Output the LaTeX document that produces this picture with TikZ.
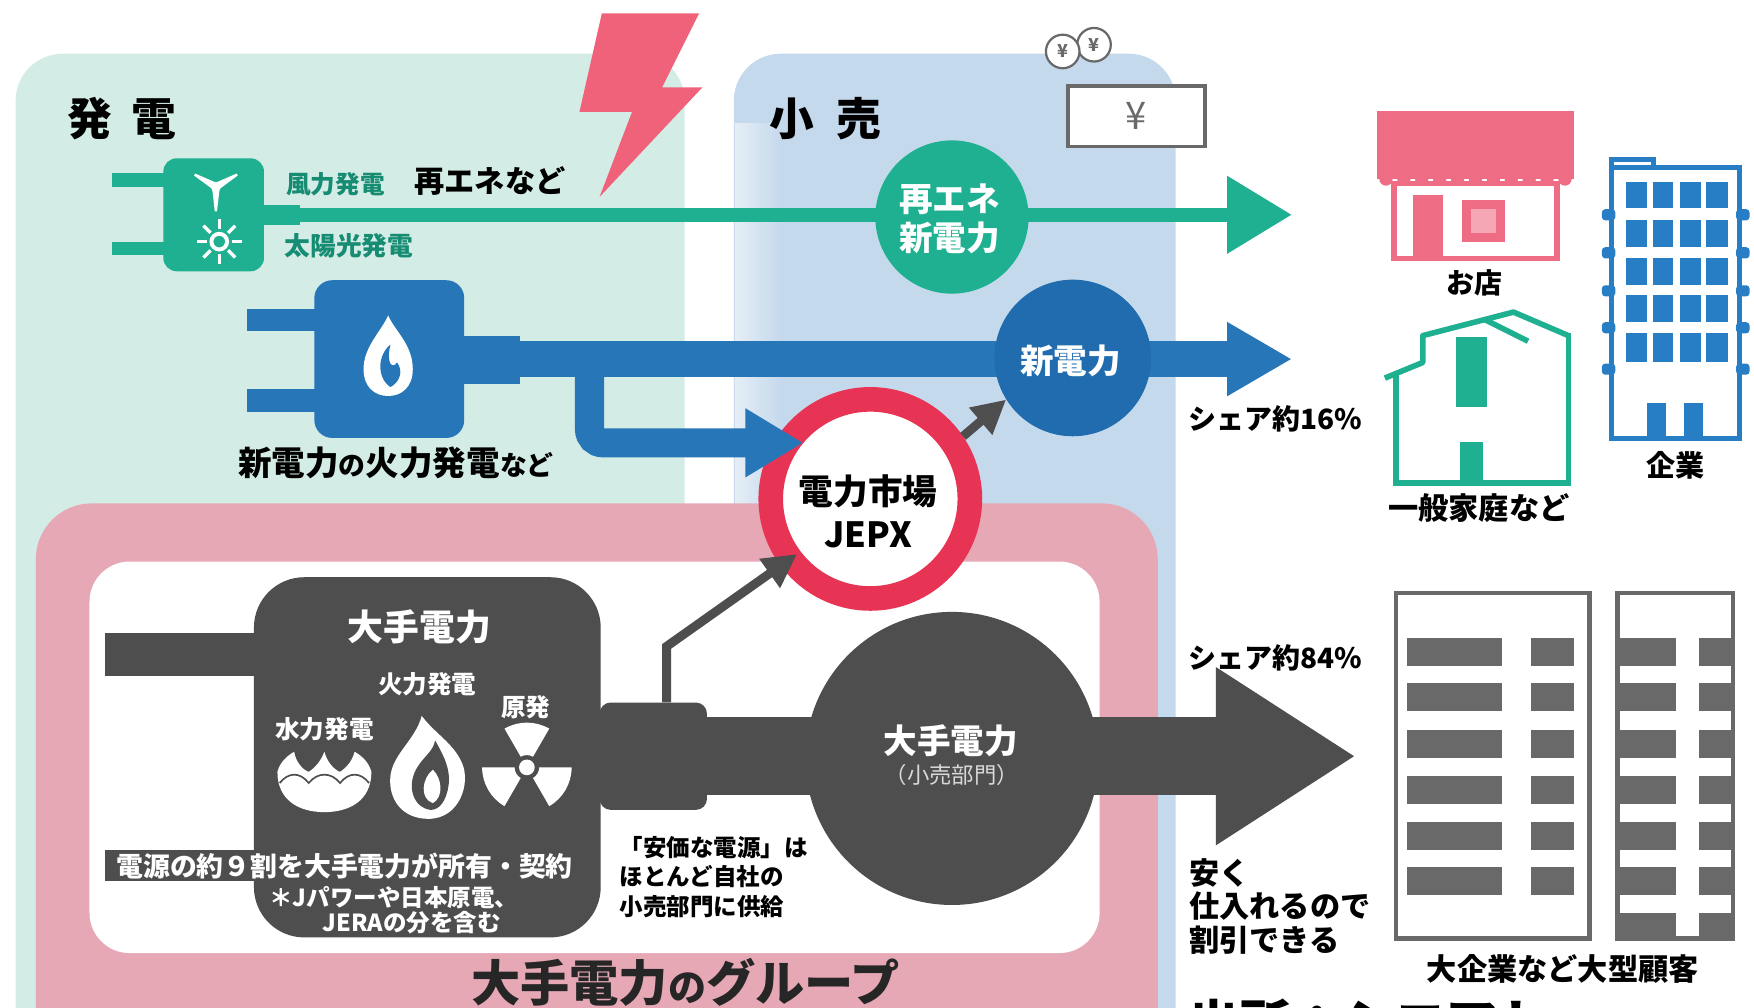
\documentclass[tikz,border=0pt]{standalone}
\usepackage{fontspec}
\setmainfont{Noto Sans CJK JP}
\usetikzlibrary{arrows.meta,calc}
\newcommand{\jfs}[2]{\fontsize{#1bp}{#2bp}\selectfont}

\definecolor{cGen}{RGB}{211,236,229}
\definecolor{cRet}{RGB}{197,217,236}
\definecolor{cGrp}{RGB}{231,168,181}
\definecolor{cGreen}{RGB}{30,176,144}
\definecolor{cGreenTx}{RGB}{22,140,115}
\definecolor{cBlue}{RGB}{38,118,184}
\definecolor{cBlueDk}{RGB}{33,108,174}
\definecolor{cRed}{RGB}{232,52,84}
\definecolor{cDark}{RGB}{78,78,78}
\definecolor{cBolt}{RGB}{240,98,122}
\definecolor{cShop}{RGB}{238,108,132}
\definecolor{cOffice}{RGB}{40,126,196}
\definecolor{cFrame}{RGB}{105,105,105}

\begin{document}
\begin{tikzpicture}[x=1bp,y=-1bp,
  txt/.style={inner sep=0pt, text=black},
  wtxt/.style={inner sep=0pt, text=white},
  plugbody/.style={inner sep=0pt},
]
\useasboundingbox (0,0) rectangle (1568,901);
\fill[white] (0,0) rectangle (1568,901);

% ---- sector backgrounds ----
\fill[cGen, rounded corners=42bp] (14,48) rectangle (612,990);
\fill[cRet, rounded corners=42bp] (656,48) rectangle (1051,990);
\shade[left color=cRet!45!white, right color=cRet] (657,110) rectangle (698,450);
\fill[cBolt] (538,12) -- (625,12) -- (592,78) -- (628,78) -- (536,176) -- (565,100) -- (518,100) -- cycle;

% ---- major utility group frame ----
\fill[cGrp, rounded corners=50bp] (32,450) rectangle (1035,990);
\fill[white, rounded corners=36bp] (80,502) rectangle (983,852);

% ---- headings ----
\node[txt, font=\jfs{40}{40}\bfseries] (tGen) at (109,106) {発\hspace{0.45em}電};
\node[txt, font=\jfs{40}{40}\bfseries] (tRet) at (738,106) {小\hspace{0.5em}売};

% ---- coins and price tag ----
\node[circle, draw=cFrame, line width=2bp, fill=white, inner sep=0pt, minimum size=30bp,
      font=\jfs{16}{16}\bfseries, text=cFrame] (coinB) at (978,40) {¥};
\node[circle, draw=cFrame, line width=2bp, fill=white, inner sep=0pt, minimum size=30bp,
      font=\jfs{16}{16}\bfseries, text=cFrame] (coinA) at (950,46) {¥};
\node[draw=cFrame, line width=3.5bp, fill=white, minimum width=122bp, minimum height=54bp,
      inner sep=0pt, font=\jfs{34}{34}, text=cFrame] (yenbox) at (1016,104) {¥};

% ---- renewable supply line ----
\fill[cGreen] (100,155) rectangle (148,167);
\fill[cGreen] (100,216) rectangle (148,228);
\node[plugbody, fill=cGreen, rounded corners=12bp, minimum width=90bp, minimum height=101bp] (gplug) at (191,192) {};
\fill[cGreen] (233,183) rectangle (268,201);
\coordinate (gEnd) at (1155,192);
\draw[cGreen, line width=13bp, -{Triangle[length=58bp,width=66bp]}] (gplug.east) -- (gEnd);
\node[circle, fill=cGreen, minimum size=137bp, inner sep=0pt] (gcirc) at (851,194) {};
\node[wtxt, font=\jfs{30}{35}\bfseries, align=center] (gcircT) at (849,196) {再エネ\\新電力};
\node[txt, font=\jfs{22}{22}\bfseries, text=cGreenTx] (lWind) at (300,165) {風力発電};
\node[txt, font=\jfs{23}{23}\bfseries, text=cGreenTx] (lSolar) at (312,220) {太陽光発電};
\node[txt, font=\jfs{27}{27}\bfseries] (lRe) at (438,162) {再エネなど};
% wind turbine
\begin{scope}[shift={(193,167)}, yscale=-1]
  \foreach \a in {90,210,330}
    \fill[white, rotate=\a] (0,-3.5) -- (22,-1) -- (22,1) -- (0,3.5) -- cycle;
  \fill[white] (0,0) circle[radius=4.5];
\end{scope}
% sun
\begin{scope}[shift={(196,216)}]
  \foreach \a in {0,45,...,315}
    \draw[white, line width=3bp, rotate=\a] (11,0) -- (20,0);
  \draw[white, line width=3.5bp] (0,0) circle[radius=7];
\end{scope}

% ---- new retailer thermal supply line ----
\fill[cBlue] (221,276) rectangle (285,296);
\fill[cBlue] (221,348) rectangle (285,368);
\node[plugbody, fill=cBlue, rounded corners=16bp, minimum width=134bp, minimum height=141bp] (bplug) at (348,321) {};
\fill[cBlue] (410,300) rectangle (465,343);
\coordinate (bEnd) at (1155,321);
\coordinate (bSplit) at (527,321);
\draw[cBlue, line width=32bp, -{Triangle[length=58bp,width=62bp]}] (bplug.east) -- (bEnd);
% flame drop
\begin{scope}[shift={(347,318)}, yscale=-1]
  \fill[white] (0,36) .. controls (6,22) and (22,10) .. (22,-12) .. controls (22,-28) and (12,-36) .. (0,-36)
     .. controls (-12,-36) and (-22,-28) .. (-22,-12) .. controls (-22,8) and (-6,22) .. (0,36) -- cycle;
  \fill[cBlue] (2,10) .. controls (-10,0) and (-10,-20) .. (2,-28) .. controls (10,-24) and (14,-14) .. (8,-6)
     .. controls (4,-12) and (-2,-8) .. (2,10) -- cycle;
\end{scope}
\node[txt, font=\jfs{30}{30}\bfseries] (lNewThermal) at (354,414)
  {新電力{\jfs{24}{24}の}火力発電{\jfs{24}{24}など}};
\node[circle, fill=cBlueDk, minimum size=140bp, inner sep=0pt] (bcirc) at (959,320) {};
\node[wtxt, font=\jfs{30}{30}\bfseries] (bcircT) at (957,323) {新電力};

% ---- wholesale market ----
\node[circle, draw=cRed, line width=22bp, fill=white, minimum size=178bp, inner sep=0pt] (jepx) at (778,446) {};
\node[txt, font=\jfs{31}{38}\bfseries, align=center] (jepxT) at (776,457) {電力市場\\JEPX};
\coordinate (jIn) at ($(jepx)!0.78!(jepx.140)$);
\draw[cBlue, line width=26bp, rounded corners=12bp, -{Triangle[length=52bp,width=58bp]}] (bSplit) |- (jIn);
\draw[cDark, line width=8bp, -{Triangle[length=30bp,width=30bp]}] (jepx.34) -- (bcirc.212);

% ---- major utilities ----
\fill[cDark] (94,566) rectangle (240,604);
\fill[cDark] (94,760) rectangle (240,788);
\node[plugbody, fill=cDark, rounded corners=45bp, minimum width=310bp, minimum height=322bp] (major) at (382,677) {};
\node[plugbody, fill=cDark, rounded corners=10bp, minimum width=96bp, minimum height=96bp] (dneck) at (584,676) {};
\coordinate (dEnd) at (1212,676);
\draw[cDark, line width=70bp, -{Triangle[length=125bp,width=150bp]}] (dneck.east) -- (dEnd);
\node[circle, fill=cDark, minimum size=262bp, inner sep=0pt] (dcirc) at (851,678) {};
\node[wtxt, font=\jfs{30}{30}\bfseries] (dcircT) at (850,662) {大手電力};
\node[wtxt, font=\jfs{20}{20}, text=white!85!black] (dcircS) at (851,693) {（小売部門）};
\coordinate (jIn2) at ($(jepx)!0.82!(jepx.217)$);
\draw[cDark, line width=8bp, -{Triangle[length=30bp,width=30bp]}] ($(dneck.north)+(12,0)$) -- ++(0,-50) -- (jIn2);

\node[wtxt, font=\jfs{32}{32}\bfseries] (mTitle) at (375,560) {大手電力};
\node[wtxt, font=\jfs{22}{22}\bfseries] (mFire) at (382,612) {火力発電};
\node[wtxt, font=\jfs{22}{22}\bfseries] (mHydro) at (290,652) {水力発電};
\node[wtxt, font=\jfs{22}{22}\bfseries] (mNuke) at (470,632) {原発};
\node[wtxt, font=\jfs{24}{24}\bfseries] (mShare) at (308,774) {電源の約９割を大手電力が所有・契約};
\node[wtxt, font=\jfs{21}{21}\bfseries] (mNote1) at (352,802) {＊Jパワーや日本原電、};
\node[wtxt, font=\jfs{21}{21}\bfseries] (mNote2) at (368,825) {JERAの分を含む};
% hydro: three wave crests over a bowl
\begin{scope}[shift={(290,698)}, yscale=-1]
  \fill[white] (-42,8) .. controls (-40,16) and (-34,22) .. (-27,26) .. controls (-26,18) and (-20,10) .. (-14,8)
     .. controls (-8,12) and (-3,18) .. (0,26) .. controls (2,18) and (8,10) .. (14,8)
     .. controls (20,12) and (25,18) .. (27,26) .. controls (34,22) and (40,16) .. (42,8)
     .. controls (42,-18) and (22,-28) .. (0,-28) .. controls (-22,-28) and (-42,-18) .. (-42,8) -- cycle;
  \draw[cDark, line width=1.5bp] (-40,-2) .. controls (-32,8) and (-22,8) .. (-14,-2)
     .. controls (-6,8) and (6,8) .. (14,-2) .. controls (22,8) and (32,8) .. (40,-2);
\end{scope}
% thermal flame
\begin{scope}[shift={(383,686)}, yscale=-1]
  \fill[white] (0,-46) .. controls (-24,-46) and (-36,-28) .. (-34,-8) .. controls (-32,12) and (-12,24) .. (-6,46)
     .. controls (6,30) and (22,22) .. (30,4) .. controls (38,-14) and (28,-46) .. (0,-46) -- cycle;
  \fill[cDark] (2,-38) .. controls (-14,-36) and (-20,-16) .. (-10,0) .. controls (-4,10) and (4,14) .. (6,24)
     .. controls (14,10) and (20,-2) .. (18,-16) .. controls (16,-30) and (10,-38) .. (2,-38) -- cycle;
  \fill[white] (4,-32) .. controls (-8,-28) and (-6,-10) .. (4,-2) .. controls (12,-10) and (14,-26) .. (4,-32) -- cycle;
\end{scope}
% nuclear
\begin{scope}[shift={(471,686)}, yscale=-1]
  \foreach \a in {90,210,330}
    \fill[white] ({\a-30}:11) arc[start angle=\a-30, end angle=\a+30, radius=11]
       -- ({\a+30}:40) arc[start angle=\a+30, end angle=\a-30, radius=40] -- cycle;
  \fill[white] (0,0) circle[radius=7];
\end{scope}

\node[txt, font=\jfs{21}{26.5}\bfseries, align=left, anchor=west] (cheapSrc) at (554,784)
  {「安価な電源」は\\ほとんど自社の\\小売部門に供給};
\node[txt, font=\jfs{44}{44}\bfseries, text=black!85] (lGroup) at (613,878) {大手電力{\jfs{34}{34}の}グループ};

% ---- shares ----
\node[txt, font=\jfs{25}{25}\bfseries, anchor=west] (share16) at (1062,374) {シェア約16\%};
\node[txt, font=\jfs{25}{25}\bfseries, anchor=west] (share84) at (1062,588) {シェア約84\%};
\node[txt, font=\jfs{27}{30}\bfseries, align=left, anchor=west] (cheap) at (1063,810) {安く\\仕入れるので\\割引できる};

% ---- customers: shop ----
\fill[cShop] (1231,99) rectangle (1407,160);
\foreach \x in {1239,1255,...,1399} \fill[cShop] (\x,160) circle[radius=6];
\draw[cShop, line width=5bp] (1246,164) rectangle (1392,231);
\fill[cShop] (1263,174) rectangle (1290,231);
\fill[cShop] (1307,179) rectangle (1345,216);
\fill[cShop!60!white] (1315,187) rectangle (1337,208);
\node[txt, font=\jfs{25}{25}\bfseries] (lShop) at (1318,253) {お店};

% ---- customers: house ----
\draw[cGreen, line width=5bp, line join=round] (1238,338) -- (1272,324) -- (1272,300) -- (1353,279) -- (1402,300);
\draw[cGreen, line width=5bp] (1248,334) -- (1248,432) -- (1402,432) -- (1402,298);
\draw[cGreen, line width=5bp] (1328,286) -- (1366,305);
\fill[cGreen] (1302,301) rectangle (1329,364);
\fill[cGreen] (1305,395) rectangle (1326,432);
\node[txt, font=\jfs{27}{27}\bfseries] (lHome) at (1322,454) {一般家庭など};

% ---- customers: office ----
\draw[cOffice, line width=4.5bp] (1441,150) rectangle (1555,392);
\draw[cOffice, line width=4.5bp] (1441,150) -- (1441,143) -- (1478,143) -- (1478,150);
\foreach \y in {192,226,260,293,330} {
  \fill[cOffice, rounded corners=3bp] (1432,\y-5) rectangle (1444,\y+5);
  \fill[cOffice, rounded corners=3bp] (1552,\y-5) rectangle (1564,\y+5);
}
\foreach \y/\h in {163/23,197/24,231/24,264/24,298/26} {
  \foreach \xa/\xb in {1454/1472,1478/1496,1502/1521,1525/1545}
    \fill[cOffice] (\xa,\y) rectangle (\xb,\y+\h);
}
\fill[cOffice] (1472,360) rectangle (1489,392);
\fill[cOffice] (1505,360) rectangle (1522,392);
\node[txt, font=\jfs{26}{26}\bfseries] (lCorp) at (1498,416) {企業};

% ---- customers: large buildings ----
\foreach \y in {570,611,653,694,735,775} {
  \fill[cFrame] (1258,\y) rectangle (1343,\y+25);
  \fill[cFrame] (1369,\y) rectangle (1407,\y+25);
}
\foreach \y in {570,611,653,694,735,775,816} {
  \fill[cFrame] (1446,\y) rectangle (1498,\y+25);
  \fill[cFrame] (1519,\y) rectangle (1549,\y+25);
}
\draw[cFrame, line width=4bp] (1248,530) rectangle (1421,839);
\draw[cFrame, line width=4bp] (1446,530) rectangle (1549,839);
\node[txt, font=\jfs{27}{27}\bfseries] (lBig) at (1397,866) {大企業など大型顧客};

% ---- source line, running off the lower edge ----
\node[txt, font=\jfs{46}{46}\bfseries, anchor=base west] (lSrc) at (1062,932) {出所：シエアト};
\end{tikzpicture}
\end{document}
